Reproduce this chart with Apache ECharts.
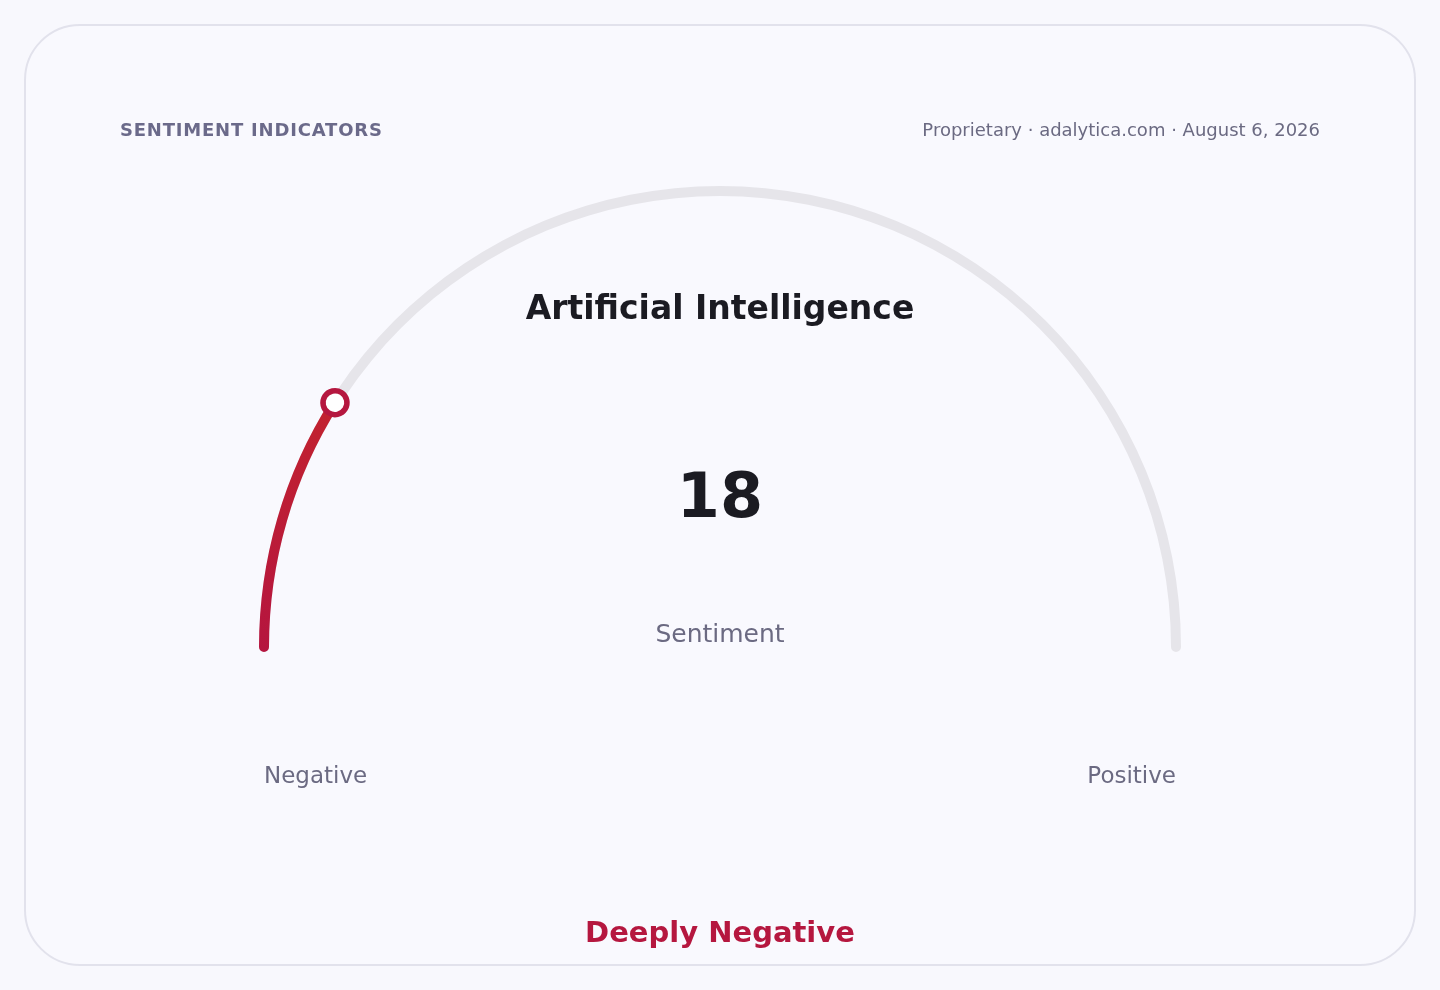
<!DOCTYPE html>
<html>
<head>
<meta charset="utf-8">
<script src="https://cdn.jsdelivr.net/npm/echarts@6/dist/echarts.min.js"></script>
<style>
  html, body { margin: 0; padding: 0; width: 1440px; height: 990px; background: #f8f8fd; overflow: hidden; }
  #card { position: absolute; left: 24px; top: 24px; width: 1388px; height: 938px; border: 2px solid #e2e2ec; border-radius: 56px; background: #f9f9fe; }
  #chart { position: absolute; left: 0; top: 0; width: 1440px; height: 990px; }
  #hl { position: absolute; left: 120px; top: 119px; font: bold 18px "DejaVu Sans", sans-serif; letter-spacing: 0.8px; color: #6b6a8a; white-space: nowrap; }
</style>
</head>
<body>
<div id="card"></div>
<div id="chart"></div>
<div id="hl"></div>
<script>
// ---- data ----
const headerLeft = 'SENTIMENT INDICATORS';
const headerRight = 'Proprietary · adalytica.com · August 6, 2026';
const topicTitle = 'Artificial Intelligence';
const metricName = 'Sentiment';
const metricValue = [18];
const scaleRange = [0, 100];
const endLabels = ['Negative', 'Positive'];
const verdict = 'Deeply Negative';

document.getElementById('hl').textContent = headerLeft;

const FONT = '"DejaVu Sans", sans-serif';
const CRIMSON = '#b5173f';
const LW = 10;
const R = 456 + LW / 2;
const PS = 24;

const hidden = { show: false };
const chart = echarts.init(document.getElementById('chart'), null, { renderer: 'canvas' });
chart.setOption({
  backgroundColor: 'transparent',
  animation: false,
  graphic: [
    { type: 'text', right: 120, top: 122, style: { text: headerRight, font: '18px ' + FONT, fill: '#6b6a82', textAlign: 'right' } },
    { type: 'text', left: 'center', top: 294, style: { text: topicTitle, font: 'bold 33px ' + FONT, fill: '#1b1b22' } },
    { type: 'text', left: 264, top: 766, style: { text: endLabels[0], font: '23px ' + FONT, fill: '#6b6a82' } },
    { type: 'text', right: 264, top: 766, style: { text: endLabels[1], font: '23px ' + FONT, fill: '#6b6a82', textAlign: 'right' } },
    { type: 'text', left: 'center', top: 920, style: { text: verdict, font: 'bold 29px ' + FONT, fill: CRIMSON } }
  ],
  series: [{
    type: 'gauge',
    z: 2,
    center: [720, 647],
    radius: R,
    startAngle: 180,
    endAngle: 0,
    min: scaleRange[0],
    max: scaleRange[1],
    axisLine: { roundCap: true, lineStyle: { width: LW, color: [[1, '#e6e5ea']] } },
    progress: {
      show: true, width: LW, roundCap: true,
      itemStyle: {
        color: new echarts.graphic.LinearGradient(0, 1, 0, 0, [
          { offset: 0, color: '#b5153f' },
          { offset: 1, color: '#c2232f' }
        ])
      }
    },
    pointer: hidden,
    anchor: hidden,
    axisTick: hidden,
    splitLine: hidden,
    axisLabel: hidden,
    title: {
      show: true,
      offsetCenter: [0, -12],
      fontFamily: FONT,
      fontSize: 25,
      color: '#6b6a82'
    },
    detail: {
      show: true,
      offsetCenter: [0, -146],
      valueAnimation: false,
      fontFamily: FONT,
      fontSize: 62,
      fontWeight: 'bold',
      color: '#1b1b22',
      formatter: '{value}'
    },
    data: [{ value: metricValue[0], name: metricName }]
  }, {
    type: 'gauge',
    z: 5,
    center: [720, 647],
    radius: R,
    startAngle: 180,
    endAngle: 0,
    min: scaleRange[0],
    max: scaleRange[1],
    axisLine: hidden,
    progress: hidden,
    pointer: {
      show: true,
      icon: 'circle',
      width: PS,
      length: PS,
      offsetCenter: [0, -(R - LW / 2) + PS / 2],
      itemStyle: { color: '#ffffff', borderColor: CRIMSON, borderWidth: 5.5 }
    },
    anchor: hidden,
    axisTick: hidden,
    splitLine: hidden,
    axisLabel: hidden,
    title: hidden,
    detail: hidden,
    data: [{ value: metricValue[0], name: metricName }]
  }]
});
</script>
</body>
</html>
